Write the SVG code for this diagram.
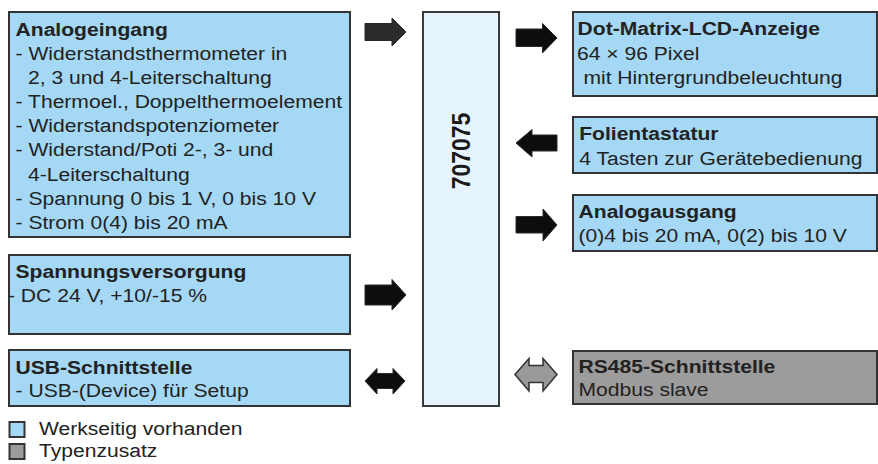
<svg xmlns="http://www.w3.org/2000/svg" width="878" height="464" viewBox="0 0 878 464">
  <style>
    .box { fill: #a4d8f4; stroke: #333; stroke-width: 2; }
    .opt { fill: #9c9c9c; stroke: #333; stroke-width: 2; }
    .core { fill: #e6f4fd; stroke: #3a3a3a; stroke-width: 2; }
    text { font-family: "Liberation Sans", Arial, sans-serif; font-size: 19px; fill: #222; }
    .t { font-weight: bold; }
    .num { font-weight: bold; font-size: 23px; fill: #1a1a1a; }
    .arr { fill: #0d0d0d; stroke: #2a2a2a; stroke-width: 1; }
    .arr2 { fill: #999; stroke: #333; stroke-width: 1.5; }
  </style>

  <!-- central unit -->
  <g id="core">
    <rect class="core" x="423" y="12" width="76" height="394"/>
    <text class="num" text-anchor="middle" transform="translate(469.5 151) scale(1.14 1) rotate(-90)">707075</text>
  </g>

  <!-- left side: inputs -->
  <g id="analogeingang">
    <rect class="box" x="9" y="12" width="341" height="225"/>
    <g transform="scale(1.11 1)">
      <text class="t" x="14" y="36">Analogeingang</text>
      <text x="14" y="60.1">- Widerstandsthermometer in</text>
      <text x="25.2" y="84.2">2, 3 und 4-Leiterschaltung</text>
      <text x="14" y="108.3">- Thermoel., Doppelthermoelement</text>
      <text x="14" y="132.4">- Widerstandspotenziometer</text>
      <text x="14" y="156.5">- Widerstand/Poti 2-, 3- und</text>
      <text x="25.2" y="180.6">4-Leiterschaltung</text>
      <text x="14" y="204.7">- Spannung 0 bis 1 V, 0 bis 10 V</text>
      <text x="14" y="228.8">- Strom 0(4) bis 20 mA</text>
    </g>
  </g>

  <g id="spannungsversorgung">
    <rect class="box" x="9" y="255" width="341" height="79"/>
    <g transform="scale(1.11 1)">
      <text class="t" x="14" y="278">Spannungsversorgung</text>
      <text x="7.2" y="302">- DC 24 V, +10/-15 %</text>
    </g>
  </g>

  <g id="usb">
    <rect class="box" x="9" y="350" width="341" height="56"/>
    <g transform="scale(1.11 1)">
      <text class="t" x="14" y="374">USB-Schnittstelle</text>
      <text x="14" y="397">- USB-(Device) für Setup</text>
    </g>
  </g>

  <!-- right side: outputs and interfaces -->
  <g id="display">
    <rect class="box" x="573" y="12" width="304" height="84"/>
    <g transform="scale(1.11 1)">
      <text class="t" x="520.3" y="35.5">Dot-Matrix-LCD-Anzeige</text>
      <text x="519.8" y="60.5">64 × 96 Pixel</text>
      <text x="525.6" y="84">mit Hintergrundbeleuchtung</text>
    </g>
  </g>

  <g id="keypad">
    <rect class="box" x="573" y="117" width="304" height="56"/>
    <g transform="scale(1.11 1)">
      <text class="t" x="521.8" y="140">Folientastatur</text>
      <text x="521.8" y="165.5">4 Tasten zur Gerätebedienung</text>
    </g>
  </g>

  <g id="analogausgang">
    <rect class="box" x="573" y="195" width="304" height="56"/>
    <g transform="scale(1.11 1)">
      <text class="t" x="521.2" y="218.3">Analogausgang</text>
      <text x="521.2" y="242">(0)4 bis 20 mA, 0(2) bis 10 V</text>
    </g>
  </g>

  <g id="rs485">
    <rect class="opt" x="573" y="351" width="304" height="53"/>
    <g transform="scale(1.11 1)">
      <text class="t" x="521.2" y="373.3">RS485-Schnittstelle</text>
      <text x="521.2" y="396">Modbus slave</text>
    </g>
  </g>

  <!-- legend -->
  <g id="legend">
    <rect class="box" x="9.5" y="422" width="15" height="15" stroke-width="1.5"/>
    <rect class="opt" x="9.5" y="444" width="15" height="15" stroke-width="1.5"/>
    <g transform="scale(1.11 1)">
      <text x="35.1" y="435.5">Werkseitig vorhanden</text>
      <text x="35.1" y="457.5">Typenzusatz</text>
    </g>
  </g>

  <!-- connectors -->
  <g id="connectors">
    <polygon class="arr" style="fill:#2b2b2b" points="365,23.5 392,23.5 392,18 406,32 392,46 392,40.5 365,40.5"/>
    <polygon class="arr" points="365,285 392,285 392,279.5 406,295 392,310 392,305 365,305"/>
    <polygon class="arr" points="365,381 377,368.5 377,373.5 393,373.5 393,368.5 405,381 393,394 393,388.5 377,388.5 377,394"/>
    <polygon class="arr" points="516,29 542.5,29 542.5,23.5 557,38 542.5,53 542.5,46.5 516,46.5"/>
    <polygon class="arr" points="557,135 532,135 532,129.5 516,143 532,157 532,151 557,151"/>
    <polygon class="arr" points="516,216.5 543,216.5 543,209 557,225 543,241 543,233 516,233"/>
    <polygon class="arr2" points="515,374.5 529,358.5 529,365.5 543,365.5 543,358.5 557,374.5 543,391 543,382.5 529,382.5 529,391"/>
  </g>
</svg>
